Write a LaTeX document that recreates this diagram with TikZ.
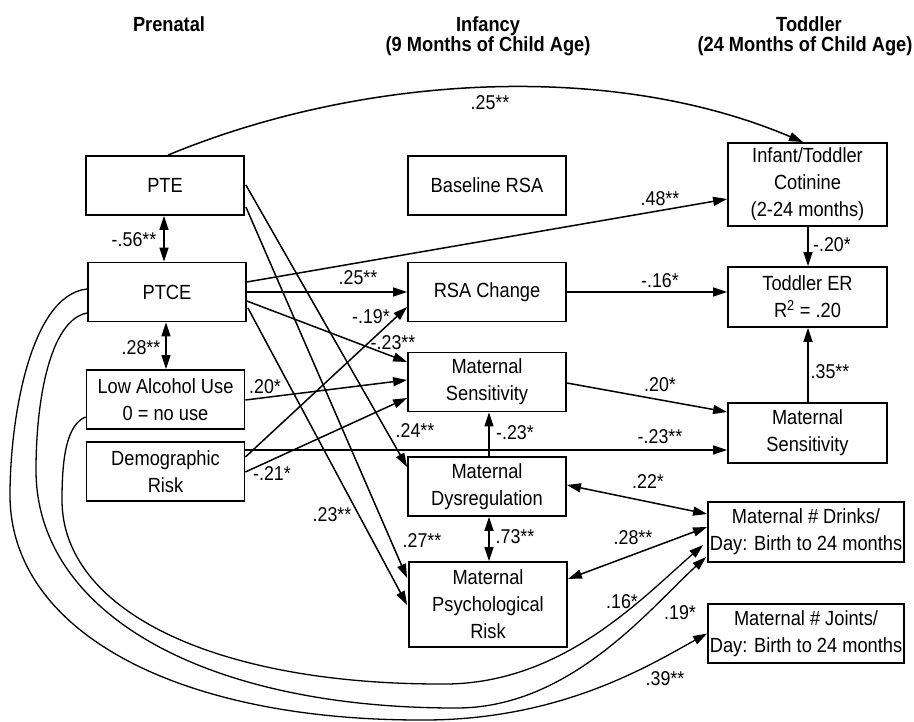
\documentclass[tikz,border=0pt]{standalone}
\usepackage{fontspec}
\setmainfont{Liberation Sans}[FakeStretch=0.89]
\usetikzlibrary{arrows.meta,calc}
\begin{document}
\begin{tikzpicture}[x=1pt,y=-1pt,
  box/.style={draw,line width=1.8pt,inner sep=0pt,align=center,font=\fontsize{20.5}{27}\selectfont,minimum width=158pt,minimum height=59pt},
  hdr/.style={font=\fontsize{20.5}{22}\selectfont\bfseries,anchor=base,inner sep=0pt},
  lab/.style={font=\fontsize{20}{22}\selectfont,inner sep=0pt},
  conn/.style={line width=1.5pt,-{Triangle[length=14pt,width=9pt]}},
  dconn/.style={line width=1.5pt,{Triangle[length=14pt,width=9pt]}-{Triangle[length=14pt,width=9pt]}},
  curve/.style={line width=1.3pt,-{Triangle[length=14pt,width=9pt]}},
]
\useasboundingbox (0,0) rectangle (914,722);

% headers
\node[hdr] (h1) at (169,32) {Prenatal};
\node[hdr] (h2) at (488,32) {Infancy};
\node[hdr] (h3) at (488,52) {(9 Months of Child Age)};
\node[hdr] (h4) at (809,32) {Toddler};
\node[hdr] (h5) at (805,52) {(24 Months of Child Age)};

% boxes
\node[box] (PTE) at (165,185.5) {PTE};
\node[box] (PTCE) at (167,292) {PTCE};
\node[box] (Low) at (165.5,399.5) {Low Alcohol Use\\0 = no use};
\node[box] (Demo) at (165.5,471.5) {Demographic\\Risk};
\node[box] (Base) at (487,185.5) {Baseline RSA};
\node[box] (RSAC) at (487,292) {RSA Change};
\node[box] (MS1) at (487,382) {Maternal\\Sensitivity};
\node[box] (Dys) at (487,486.5) {Maternal\\Dysregulation};
\node[box,minimum height=85pt] (Psy) at (488,604.5) {Maternal\\Psychological\\Risk};
\node[box,minimum width=159pt,minimum height=83pt] (Cot) at (807.5,184.5) {Infant/Toddler\\Cotinine\\(2-24 months)};
\node[box,minimum width=159pt,minimum height=60pt] (TER) at (807.5,297) {Toddler ER\\R\textsuperscript{2} = .20};
\node[box,minimum width=159pt,minimum height=60pt] (MS2) at (807.5,433) {Maternal\\Sensitivity};
\node[box,minimum width=196pt,minimum height=60pt] (Drk) at (806,532) {Maternal \# Drinks/\\Day: Birth to 24 months};
\node[box,minimum width=196pt,minimum height=59pt] (Jnt) at (806,633.5) {Maternal \# Joints/\\Day: Birth to 24 months};

% top arc
\draw[conn] ($(PTE.north)+(3,0)$) .. controls (361,75) and (610,60) .. ($(Cot.north)+(-4.5,0)$);
\node[lab] (l1) at (490,103) {.25**};

% prenatal correlations
\draw[dconn] ($(PTE.south)+(-1,0)$) -- ($(PTCE.north)+(-3,0)$);
\node[lab] (l2) at (134,240) {-.56**};
\draw[dconn] ($(PTCE.south)+(-1,0)$) -- ($(Low.north)+(0.5,0)$);
\node[lab] (l3) at (141,348) {.28**};

% from PTCE
\draw[conn] ($(PTCE.east)+(0,-10)$) -- ($(Cot.west)+(0,14.5)$);
\node[lab] (l4) at (660,199) {.48**};
\draw[conn] (PTCE.east) -- (RSAC.west);
\node[lab] (l5) at (358,278) {.25**};
\draw[conn] ($(PTCE.east)+(0,9)$) -- ($(MS1.west)+(0,-20)$);
\node[lab] (l6) at (393,343) {-.23**};
\draw[conn] ($(PTCE.east)+(1,16)$) -- ($(Psy.west)+(-1,0.5)$);
\node[lab] (l7) at (332,515) {.23**};

% from PTE
\draw[conn] ($(PTE.east)+(1,-0.5)$) -- ($(Dys.west)+(0,-19.5)$);
\node[lab] (l8) at (415,431) {.24**};
\draw[conn] ($(PTE.east)+(1,21.5)$) -- ($(Psy.west)+(-1,-26.5)$);
\node[lab] (l9) at (422,541) {.27**};

% from Demographic / Low alcohol
\draw[conn] ($(Demo.east)+(0,-14.5)$) -- ($(RSAC.west)+(0,15)$);
\node[lab] (l10) at (371,317) {-.19*};
\draw[conn] ($(Demo.east)+(0,0.5)$) -- ($(MS1.west)+(0,16)$);
\node[lab] (l11) at (272,474) {-.21*};
\draw[conn] ($(Low.east)+(0,0.5)$) -- ($(MS1.west)+(0,-2)$);
\node[lab] (l12) at (265,387) {.20*};
\draw[conn] ($(Demo.east)+(0,-21.5)$) -- ($(MS2.west)+(0,17)$);
\node[lab] (l13) at (660,437) {-.23**};

% infancy
\draw[conn] ($(Dys.north)+(2,0)$) -- ($(MS1.south)+(2,0)$);
\node[lab] (l14) at (515,433) {-.23*};
\draw[conn] ($(MS1.east)+(0,1)$) -- ($(MS2.west)+(0,-21)$);
\node[lab] (l15) at (660,385) {.20*};
\draw[conn] (RSAC.east) -- ($(TER.west)+(0,-5)$);
\node[lab] (l16) at (660,281) {-.16*};
\draw[dconn] ($(Dys.south)+(2,0)$) -- ($(Psy.north)+(1,0)$);
\node[lab] (l17) at (515,537) {.73**};
\draw[dconn] ($(Dys.east)+(0,-1.5)$) -- ($(Drk.west)+(0,-18)$);
\node[lab] (l18) at (648,482) {.22*};
\draw[dconn] ($(Psy.east)+(0,-25.5)$) -- ($(Drk.west)+(0,-5)$);
\node[lab] (l19) at (633,538) {.28**};

% toddler
\draw[conn] ($(Cot.south)+(0.5,0)$) -- ($(TER.north)+(0.5,0)$);
\node[lab] (l20) at (832,245) {-.20*};
\draw[conn] ($(MS2.north)+(0.5,0)$) -- ($(TER.south)+(0.5,0)$);
\node[lab] (l21) at (830,372) {.35**};

% long curves
\draw[curve] ($(Low.west)+(0,17.5)$) .. controls (66,425) and (62,460) .. (62,500)
  .. controls (62,610) and (213,684) .. (440,684)
  .. controls (560,686) and (640,600) .. ($(Drk.west)+(-4,13)$);
\node[lab] (l22) at (622,602) {.16*};
\draw[curve] ($(PTCE.west)+(0,21)$) .. controls (50,320) and (36,400) .. (36,470)
  .. controls (36,613) and (204,708) .. (455,708)
  .. controls (570,709) and (650,608) .. ($(Drk.west)+(-1,25)$);
\node[lab] (l23) at (680,613) {.19*};
\draw[curve] ($(PTCE.west)+(0,-3)$) .. controls (30,295) and (10,420) .. (10,495)
  .. controls (10,630) and (174,720) .. (420,720)
  .. controls (560,721) and (650,665) .. (Jnt.west);
\node[lab] (l24) at (665,679) {.39**};
\end{tikzpicture}
\end{document}
